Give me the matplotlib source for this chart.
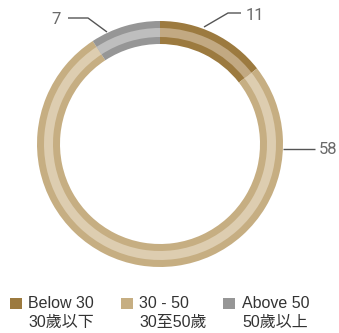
import matplotlib
matplotlib.use("Agg")
import matplotlib.pyplot as plt
import numpy as np

plt.rcParams['font.family'] = ['Liberation Sans', 'Noto Sans CJK TC', 'DejaVu Sans']

# Age groups
labels_en = ["Below 30", "30 - 50", "Above 50"]
labels_zh = ["30歲以下", "30至50歲", "50歲以上"]
values = [11, 58, 7]
colors_outer = ["#9C7A3F", "#C6AE82", "#969696"]
colors_stripe = ["#C2A982", "#DDCDB0", "#BEBEBE"]

W, H = 339, 333
fig = plt.figure(figsize=(W / 100, H / 100), dpi=100)
ax = fig.add_axes([0, 0, 1, 1])

# Pixel-like coordinates with the ring centre at the origin
cx, cy = 160, 144
ax.axis("off")

R_OUT, RING_W = 123, 23
STRIPE_R, STRIPE_W = 116, 9

ax.pie(values, radius=R_OUT, colors=colors_outer, startangle=90,
       counterclock=False, wedgeprops=dict(width=RING_W, linewidth=0))
ax.pie(values, radius=STRIPE_R, colors=colors_stripe, startangle=90,
       counterclock=False, wedgeprops=dict(width=STRIPE_W, linewidth=0))
ax.set_xlim(-cx, W - cx)
ax.set_ylim(-(H - cy), cy)
ax.set_aspect("auto")


def px(x, y):
    return x - cx, cy - y


line_kw = dict(color="#555555", lw=1.0, solid_capstyle="butt")
label_kw = dict(color="#6A6A6A", fontsize=12, va="center",
                family=["Roboto", "DejaVu Sans"], fontweight="normal")

# Leader for the first slice
pts = [px(204, 27), px(228, 13), px(241, 13)]
ax.plot(*zip(*pts), **line_kw)
ax.text(*px(246, 15), str(values[0]), ha="left", **label_kw)

# Leader for the second slice
pts = [px(283, 149), px(315, 149)]
ax.plot(*zip(*pts), **line_kw)
ax.text(*px(319, 150), str(values[1]), ha="left", **label_kw)

# Leader for the third slice
pts = [px(107, 32), px(88, 18), px(68, 18)]
ax.plot(*zip(*pts), **line_kw)
ax.text(*px(61, 19), str(values[2]), ha="right", **label_kw)

# Legend
sq_x = [10, 121, 223]
txt_x = [28, 139, 242]
for i in range(3):
    fig.patches.append(plt.Rectangle((sq_x[i] / W, 1 - 309 / H), 12 / W, 11 / H,
                                     transform=fig.transFigure, color=colors_outer[i], lw=0))
    fig.text(txt_x[i] / W, 1 - 303 / H, labels_en[i], fontsize=11.5,
             color="#333333", va="center", ha="left")
    fig.text(txt_x[i] / W, 1 - 322 / H, labels_zh[i], fontsize=11.5,
             color="#333333", va="center", ha="left")

fig.savefig("out.png", dpi=100)
